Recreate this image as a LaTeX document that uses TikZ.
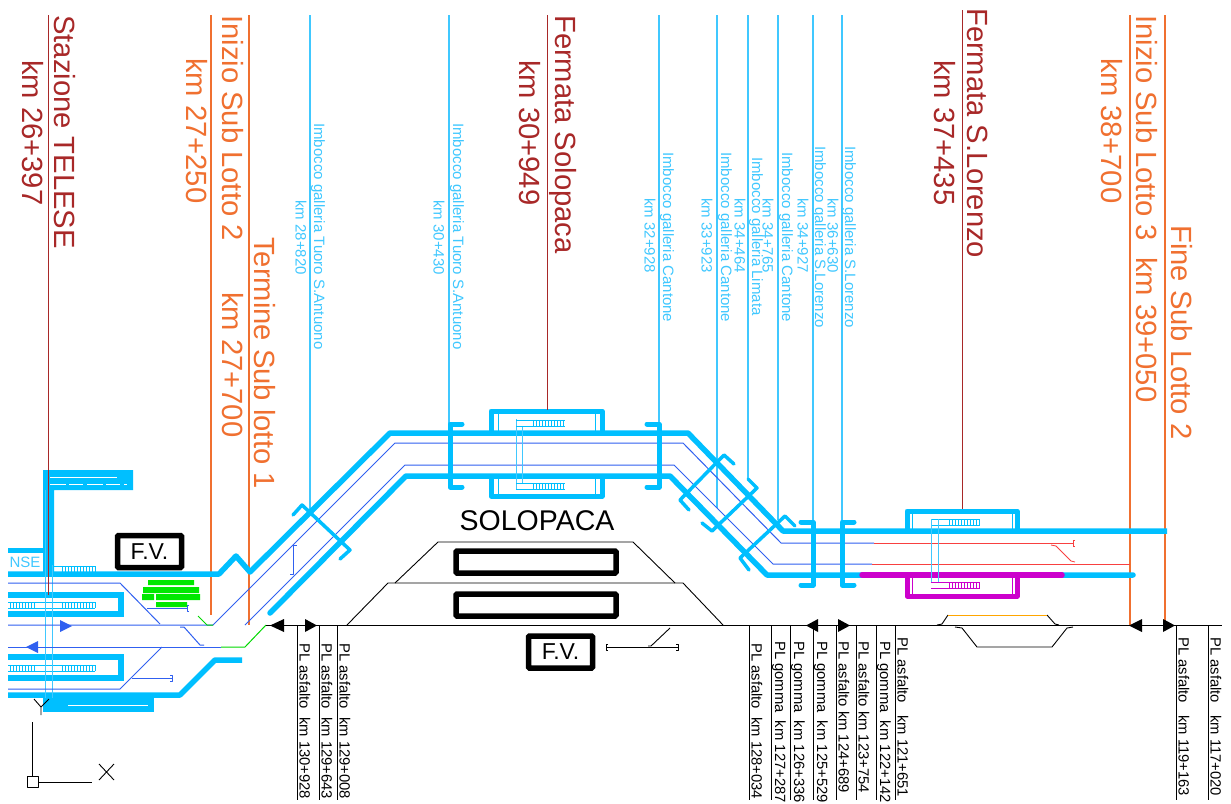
\documentclass[tikz,border=0pt]{standalone}
\usepackage{fontspec}
\setmainfont{Liberation Sans}
\definecolor{trk}{HTML}{00BFFF}
\definecolor{ltc}{HTML}{40C8FF}
\definecolor{blu}{HTML}{3060F0}
\definecolor{dred}{HTML}{A82828}
\definecolor{org}{HTML}{F07030}
\definecolor{mag}{HTML}{CC00CC}
\definecolor{grn}{HTML}{00E800}
\definecolor{rd}{HTML}{F84040}
\newcommand\hatchbar[5]{\foreach \hx in {#1,#2,...,#3}{\draw[#5,line width=.8pt] (\hx,#4) -- ++(0,6);}}
\tikzset{
 tl/.style={rotate=-90,anchor=west,inner sep=0pt},
 big/.style={xshift=2pt,tl,text=dred,font=\fontsize{29.2}{30}\selectfont},
 bigo/.style={xshift=2pt,tl,text=org,font=\fontsize{29.2}{30}\selectfont},
 cy/.style={tl,text=ltc,font=\fontsize{15}{16}\selectfont},
 pl/.style={tl,text=black,font=\fontsize{14.8}{15}\selectfont},
 thick track/.style={trk,line width=5.5pt,line join=round,line cap=round},
 portal/.style={trk,line width=5pt,line join=round,line cap=round},
 thin blue/.style={blu,line width=1pt,line join=round},
 vred/.style={dred,line width=1pt},
 vorg/.style={org,line width=1.1pt},
 vcy/.style={ltc,line width=1.1pt},
 pline/.style={black,line width=1pt},
 plat/.style={trk,line width=5pt,line join=round},
 blk/.style={black,line width=.9pt,line join=round},
 fv/.style={draw=black,line width=5.5pt,rounded corners=1pt,minimum width=64pt,minimum height=32pt,inner sep=0pt,font=\fontsize{23}{24}\selectfont},
 tri/.style={fill=black,draw=none},
}
\begin{document}
\begin{tikzpicture}[x=1pt,y=-1pt]
\useasboundingbox (0,0) rectangle (1231,803);
\fill[white] (0,0) rectangle (1231,803);
% vertical reference lines
\foreach \x/\t in {310/513,449/425,659/425,717/508,748/480,778/520,813/522,842/522}{\draw[vcy] (\x,15) -- (\x,\t);}
\draw[vorg] (211,15) -- (211,615);
\draw[vorg] (249,15) -- (249,625);
\draw[vorg] (1130,15) -- (1130,625);
\draw[vorg] (1165,15) -- (1165,625);
% left station
\fill[trk] (43,470) -- (133,470) -- (133,490) -- (54,490) -- (54,574) -- (43,574) -- cycle;
\draw[white,line width=1pt] (50,477) -- (117,477);
\draw[white,line width=1pt,dash pattern=on 16pt off 3pt on 14pt off 4pt] (50,484) -- (127,484);
\fill[trk] (8,548) rectangle (43,553);
\node[text=ltc,font=\fontsize{15}{16}\selectfont,inner sep=0pt] (nse) at (25,562) {NSE};
\draw[thick track,line cap=butt] (8,574) -- (219,574) -- (236,556) -- (250,572) -- (390,433) -- (688,433) -- (783,531) -- (1167,531);
\draw[thick track,line cap=butt] (8,695) -- (180,695) -- (215,660) -- (242,660);
\draw[thick track] (270,613) -- (406,476) -- (670,476) -- (767,575) -- (1133,575);
\draw[mag,line width=5.5pt,line cap=round] (862,575) -- (1062,575);
\draw[trk,line width=5.5pt] (8,595) -- (121,595) -- (121,614) -- (8,614);
\draw[trk,line width=5.5pt] (8,657) -- (121,657) -- (121,678) -- (8,678);
\fill[trk] (43,698) rectangle (154,712);
\draw[white,line width=1pt] (68,705) -- (148,705);
\foreach \yy in {602,665}{
 \hatchbar{10}{13}{34}{\yy}{trk}
 \hatchbar{62}{65}{95}{\yy}{trk}
 \draw[trk,line width=.8pt] (8,\yy) -- (95,\yy) (8,\yy+6) -- (95,\yy+6);
}
\hatchbar{62}{65}{95}{566}{trk}
\draw[trk,line width=.8pt] (50,566) -- (95,566) (50,572) -- (95,572);
\draw[ltc,line width=1pt] (45,490) -- (45,698) (52,565) -- (52,698);
% thin tracks
\draw[thin blue] (8,583) -- (120,583) -- (160,624);
\draw[thin blue] (8,625) -- (213,625) -- (395,443) -- (683,443) -- (781,543) -- (874,543);
\draw[thin blue] (245,625) -- (405,465) -- (674,465) -- (773,564) -- (872,564);
\draw[thin blue] (8,647) -- (221,647);
\draw[thin blue] (8,689) -- (120,689) -- (162,647);
\draw[thin blue] (132,678) -- (172,678) (170,675) -- (172,675) -- (172,681) -- (170,681);
\draw[thin blue] (147,608) -- (187,608) (189,605) -- (187,605) -- (187,611) -- (189,611);
\draw[thin blue] (180,627) -- (184,627) -- (200,645) -- (204,645);
\draw[thin blue] (290,574) -- (293,574) -- (293,545) -- (297,545);
\draw[rd,line width=1pt] (874,543) -- (1073,543) (1075,540) -- (1073,540) -- (1073,546) -- (1075,546);
\draw[rd,line width=1pt] (872,564) -- (1130,564);
\draw[rd,line width=.8pt] (1051,545) -- (1056,546) -- (1071,561) -- (1075,562);
\draw[green!85!black,line width=1pt] (221,647) -- (245,647) -- (266,625);
\draw[green!85!black,line width=1pt] (198,616) -- (207,625) -- (213,625);
% green bricks
\fill[grn] (148,580) rectangle (194,585) (143,587) rectangle (199,593) (142,594) rectangle (154,600) (156,594) rectangle (200,600) (156,602) rectangle (187,607);
% arrows
\fill[blu] (72,626) -- (60,620) -- (60,632) -- cycle;
\fill[blu] (26,647) -- (38,641) -- (38,653) -- cycle;
% main black line
\draw[blk,line width=1.1pt] (266,625.5) -- (1222,625.5);
\foreach \a/\b in {270/284,806/818,1129/1142}{\fill[black] (\a,625.5) -- (\b,619) -- (\b,632) -- cycle;}
\foreach \a/\b in {317/305,850/838,1175/1163}{\fill[black] (\a,625.5) -- (\b,619) -- (\b,632) -- cycle;}
% Solopaca platforms
\draw[plat] (491,432) -- (491,411) -- (602,411) -- (602,432);
\draw[plat] (491,476) -- (491,496) -- (602,496) -- (602,476);
\draw[trk,line width=.8pt] (498,413) -- (498,431) (595,413) -- (595,431) (498,478) -- (498,494) (595,478) -- (595,494);
\draw[ltc,line width=1pt] (516,419) -- (516,489) (522,427) -- (522,483);
\foreach \yy in {420,483}{
 \hatchbar{533}{536}{565}{\yy}{trk}
 \draw[trk,line width=.8pt] (516,\yy) -- (565,\yy) (516,\yy+6) -- (565,\yy+6);
}
% S.Lorenzo platforms
\draw[plat] (907,531) -- (907,511) -- (1017,511) -- (1017,531);
\draw[plat,mag] (907,575) -- (907,596) -- (1017,596) -- (1017,575);
\draw[trk,line width=.8pt] (912,513) -- (912,530) (1012,513) -- (1012,530);
\draw[mag,line width=.8pt] (912,577) -- (912,594) (1012,577) -- (1012,594);
\hatchbar{949}{952}{980}{519}{trk}
\draw[trk,line width=.8pt] (931,519) -- (980,519) (931,525) -- (980,525);
\draw[ltc,line width=1pt] (931,519) -- (931,583) (938,519) -- (938,583);
\hatchbar{949}{952}{980}{582}{mag}
\draw[mag,line width=.8pt] (931,582) -- (980,582) (931,588) -- (980,588);
% portals
\draw[portal] (462,424) -- (450,424) -- (450,487) -- (462,487);
\draw[portal] (647,424) -- (659,424) -- (659,487) -- (647,487);
\draw[portal,line width=3.5pt] (293,515) -- (302,505) -- (350,550) -- (340,559);
\draw[portal,line width=3.5pt] (734,464) -- (724,455) -- (680,500) -- (689,510);
\draw[portal,line width=3.5pt] (748,479) -- (757,488) -- (712,531) -- (702,523);
\draw[portal,line width=3.5pt] (795,526) -- (785,516) -- (740,558) -- (749,570);
\draw[portal] (801,522) -- (813,522) -- (813,585) -- (801,585);
\draw[portal] (854,522) -- (842,522) -- (842,585) -- (854,585);
% embankments
\draw[blk] (347,625) -- (388,583) -- (683,583) -- (723,625);
\draw[blk] (395,583) -- (438,542) -- (633,542) -- (675,583);
\draw[black,line width=5.5pt,rounded corners=1pt] (456,551) rectangle (616,573);
\draw[black,line width=5.5pt,rounded corners=1pt] (456,594) rectangle (616,616);
\node[font=\fontsize{28.5}{29}\selectfont,inner sep=0pt] (solopaca) at (537,521) {SOLOPACA};
\node[fv] (fva) at (149.5,551.5) {F.V.};
\node[fv] (fvb) at (560.5,652) {F.V.};
\draw[blk] (606,647) -- (678,647) (608,644) -- (606,644) -- (606,650) -- (608,650) (676,644) -- (678,644) -- (678,650) -- (676,650);
\draw[blk] (648,646) -- (651,646) -- (670,628);
% S.Lorenzo loop
\draw[blk] (937,625) -- (942,624) -- (948,615);
\draw[blk] (1047,615) -- (1055,624) -- (1059,625);
\draw[orange!70!yellow,line width=1pt] (948,615) -- (1047,615);
\draw[blk] (955,627) -- (962,628) -- (977,647) -- (1052,647) -- (1067,628) -- (1073,627);
% reference lines over tracks
\draw[vred] (48,15) -- (48,595);
\draw[vred] (547,15) -- (547,410);
\draw[vred] (962,10) -- (962,509);
% PL lines and labels
\foreach \x/\s/\t in {297/643/PL asfalto~~km 130+928,319/643/PL asfalto~~km 129+643,337/643/PL asfalto~~km 129+008,749/643/PL asfalto~~km 128+034,771/641/PL gomma~~km 127+287,790/641/PL gomma~~km 126+336,813/641/PL gomma~~km 125+529,836/641/PL asfalto km 124+689,856/641/PL asfalto km 123+754,876/641/PL gomma~~km 122+142,895/637/PL asfalto~~~km 121+651,1176/637/PL asfalto~~~km 119+163,1208/637/PL asfalto~~~km 117+020}{
 \draw[pline] (\x,625.5) -- (\x,800);
 \node[pl] at (\x+8,\s) {\t};
}
% top labels
\node[big] (a1) at (63,15) {Stazione TELESE};
\node[big] (a2) at (31,60) {km 26+397};
\node[bigo] (b1) at (231,15) {Inizio Sub Lotto 2};
\node[bigo] (b2) at (195,58) {km 27+250};
\node[bigo] (b3) at (263,237) {Termine Sub lotto 1};
\node[bigo] (b4) at (231,292) {km 27+700};
\node[big] (c1) at (561,15) {Fermata Solopaca};
\node[big] (c2) at (528,60) {km 30+949};
\node[big] (d1) at (976,8) {Fermata S.Lorenzo};
\node[big] (d2) at (943,60) {km 37+435};
\node[bigo] (e1) at (1145,15) {Inizio Sub Lotto 3~~km 39+050};
\node[bigo] (e2) at (1110,58) {km 38+700};
\node[bigo] (e3) at (1180,225) {Fine Sub Lotto 2};
% gallery labels
\foreach \x/\s/\t in {318/123/Imbocco galleria Tuoro S.Antuono,457/123/Imbocco galleria Tuoro S.Antuono,667/152/Imbocco galleria Cantone,725/152/Imbocco galleria Cantone,756/157/Imbocco galleria Limata,786/152/Imbocco galleria Cantone,819/146/Imbocco galleria S.Lorenzo,849/146/Imbocco galleria S.Lorenzo}{\node[cy] at (\x,\s) {\t};}
\foreach \x/\s/\t in {301/200/km 28+820,439/200/km 30+430,650/198/km 32+928,707/198/km 33+923,740/198/km 34+464,768/198/km 34+765,803/198/km 34+927,833/198/km 36+630}{\node[cy] at (\x,\s) {\t};}
% UCS icon
\draw[blk] (32,722) -- (32,776) (38,782) -- (92,782);
\draw[blk] (27,776) rectangle (38,787);
\draw[blk] (99,764) -- (114,780) (114,764) -- (99,780);
\draw[blk] (34,699) -- (41,707) -- (49,699) (41,707) -- (41,715);
\end{tikzpicture}
\end{document}
